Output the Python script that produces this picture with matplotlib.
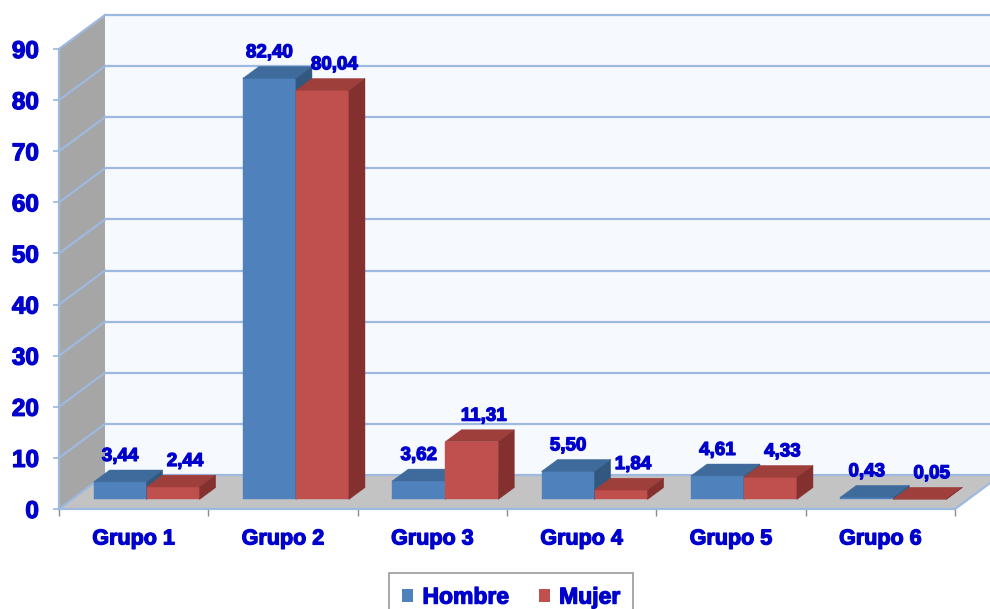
import matplotlib.pyplot as plt
import matplotlib.patheffects as pe
from matplotlib.patches import Polygon, Patch
from matplotlib.ticker import FixedLocator

plt.rcParams['font.family'] = ['Liberation Sans', 'DejaVu Sans']
plt.rcParams['font.weight'] = 'bold'

grupos = ['Grupo 1', 'Grupo 2', 'Grupo 3', 'Grupo 4', 'Grupo 5', 'Grupo 6']
hombre = [3.44, 82.40, 3.62, 5.50, 4.61, 0.43]
mujer = [2.44, 80.04, 11.31, 1.84, 4.33, 0.05]
series = ['Hombre', 'Mujer']
yticks = [0, 10, 20, 30, 40, 50, 60, 70, 80, 90]

azul_txt = '#0000CC'
grid_c = '#9DB9E0'
caras = {
    'Hombre': ('#4F81BD', '#3F6A9C', '#33587F'),
    'Mujer': ('#C0504D', '#9E3F3C', '#83302E'),
}
grueso = [pe.withStroke(linewidth=0.9, foreground=azul_txt)]

# fake 3d: depth offset in data units
DX = 46 / 149.33
DY = 34 / 5.111
z0, z1 = 0.28, 0.63
ancho = 0.355


def p(x, y, z):
    return (x + z * DX, y + z * DY)


fig = plt.figure(figsize=(9.9, 6.09), dpi=100)
ax = fig.add_axes([59 / 990, 100 / 609, 896 / 990, 460 / 609])
ax.set_xlim(0, 6)
ax.set_ylim(0, 90)
for s in ax.spines.values():
    s.set_visible(False)

ymax = yticks[-1]
n = len(grupos)
xr = n + 2  # back wall runs off the right edge

# back wall
ax.add_patch(Polygon([p(0, 0, 1), p(xr, 0, 1), p(xr, ymax, 1), p(0, ymax, 1)],
                     closed=True, fc='#F6F9FE', ec='none', clip_on=False, zorder=1))
# left wall
ax.add_patch(Polygon([p(0, 0, 0), p(0, 0, 1), p(0, ymax, 1), p(0, ymax, 0)],
                     closed=True, fc='#A6A6A6', ec='none', clip_on=False, zorder=1))
# floor
ax.add_patch(Polygon([p(0, 0, 0), p(n, 0, 0), p(n, 0, 1), p(0, 0, 1)],
                     closed=True, fc='#C3C3C3', ec='none', clip_on=False, zorder=1))

for v in yticks:
    a, b = p(0, v, 1), p(xr, v, 1)
    ax.plot([a[0], b[0]], [a[1], b[1]], color=grid_c, lw=1.6, clip_on=False, zorder=2)
    c, d = p(0, v, 0), p(0, v, 1)
    ax.plot([c[0], d[0]], [c[1], d[1]], color=grid_c, lw=1.6, clip_on=False, zorder=2)

# edges of walls / floor
ax.plot([0, 0], [0, ymax], color=grid_c, lw=1.6, clip_on=False, zorder=2)
ax.plot([0, n], [0, 0], color=grid_c, lw=1.6, clip_on=False, zorder=2)
e1, e2 = p(n, 0, 0), p(n, 0, 1)
ax.plot([e1[0], e2[0]], [e1[1], e2[1]], color=grid_c, lw=1.6, clip_on=False, zorder=2)

# bars
for i in range(n):
    for k, (nombre, vals) in enumerate(zip(series, [hombre, mujer])):
        v = vals[i]
        x0 = i + 0.145 + k * ancho
        x1 = x0 + ancho
        fc, tc, sc = caras[nombre]
        zo = 3 + i * 2 + k
        ax.add_patch(Polygon([p(x0, 0, z0), p(x1, 0, z0), p(x1, v, z0), p(x0, v, z0)],
                             closed=True, fc=fc, ec=fc, lw=0.3, clip_on=False, zorder=zo))
        ax.add_patch(Polygon([p(x0, v, z0), p(x1, v, z0), p(x1, v, z1), p(x0, v, z1)],
                             closed=True, fc=tc, ec=tc, lw=0.3, clip_on=False, zorder=zo))
        ax.add_patch(Polygon([p(x1, 0, z0), p(x1, v, z0), p(x1, v, z1), p(x1, 0, z1)],
                             closed=True, fc=sc, ec=sc, lw=0.3, clip_on=False, zorder=zo))
        lx, ly = p((x0 + x1) / 2 + k * 0.08, v, z0)
        ax.annotate(f'{v:.2f}'.replace('.', ','), (lx, ly), xytext=(0, 17),
                    textcoords='offset pixels', ha='center', va='bottom',
                    fontsize=13.5, fontweight='bold', color=azul_txt, zorder=20,
                    annotation_clip=False, path_effects=grueso)

# ticks
ax.set_yticks(yticks)
ax.tick_params(axis='y', length=4.5, width=1.2, color='#A0B8D8', pad=10,
               labelsize=17.5, labelcolor=azul_txt)
ax.xaxis.set_major_locator(FixedLocator([i + 0.5 for i in range(n)]))
ax.set_xticklabels(grupos)
ax.xaxis.set_minor_locator(FixedLocator(list(range(n + 1))))
ax.tick_params(axis='x', which='major', length=0, pad=14, labelsize=15.5,
               labelcolor=azul_txt)
ax.tick_params(axis='x', which='minor', length=5, width=1, color='#8C8C8C')
for t in ax.get_xticklabels() + ax.get_yticklabels():
    t.set_fontweight('bold')
    t.set_path_effects(grueso)

handles = [Patch(fc=caras[s][0], ec='none') for s in series]
leg = fig.legend(handles, series, loc='upper center', bbox_to_anchor=(511 / 990, 1 - 573 / 609),
                 ncol=2, frameon=True, fancybox=False, edgecolor='#808080',
                 handlelength=0.5, handleheight=0.5, handletextpad=0.4,
                 columnspacing=1.3, borderpad=0.55, borderaxespad=0,
                 prop={'size': 16.5, 'weight': 'bold'}, labelcolor=azul_txt)
leg.get_frame().set_linewidth(1.2)
for t in leg.get_texts():
    t.set_path_effects(grueso)

fig.savefig('out.png', dpi=100)
